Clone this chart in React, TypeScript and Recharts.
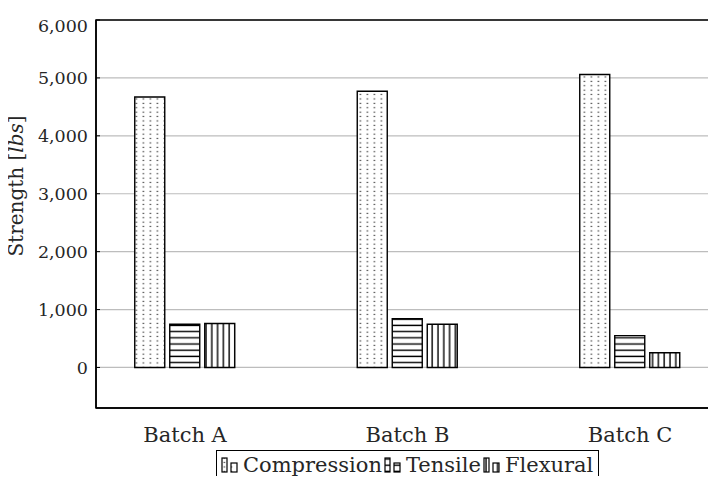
import { BarChart, Bar, XAxis, YAxis, CartesianGrid, ReferenceArea } from 'recharts'

const batches = ['Batch A', 'Batch B', 'Batch C']
const compression = [4670, 4770, 5060]
const tensile = [745, 840, 550]
const flexural = [760, 745, 255]
const yTicks = [0, 1000, 2000, 3000, 4000, 5000, 6000]

const data = batches.map((name, i) => ({
  x: i,
  name,
  compression: compression[i],
  tensile: tensile[i],
  flexural: flexural[i],
}))

const FONT = '"DejaVu Serif", serif'
const INK = '#262626'

const fmt = (v: number) => v.toLocaleString('en-US')

/** y tick: right-aligned label plus a short inward tick mark */
function YTick(props: any) {
  const { x, y, payload } = props
  const top = payload.value === 6000
  return (
    <g>
      <line x1={x + 8} x2={x + 12} y1={y} y2={y} stroke="#000" strokeWidth={1} />
      <text
        x={x}
        y={y + (top ? 6 : 0)}
        dy="0.36em"
        textAnchor="end"
        fontFamily={FONT}
        fontSize={17.5}
        fill={INK}
      >
        {fmt(payload.value)}
      </text>
    </g>
  )
}

function YLabel(props: any) {
  const { viewBox } = props
  const cx = viewBox.x + 16
  const cy = viewBox.y + viewBox.height / 2 - 28
  return (
    <text
      x={cx}
      y={cy}
      transform={`rotate(-90 ${cx} ${cy})`}
      textAnchor="middle"
      dominantBaseline="central"
      fontFamily={FONT}
      fontSize={20}
      fill={INK}
    >
      Strength [<tspan fontStyle="italic">lbs</tspan>]
    </text>
  )
}

function Patterns() {
  return (
    <svg width={0} height={0} style={{ position: 'absolute' }}>
      <defs>
        <pattern id="dots" patternUnits="userSpaceOnUse" width={7} height={4.4}>
          <rect width={7} height={4.4} fill="#fff" />
          <rect x={2.5} y={1.6} width={1.8} height={1.1} fill="#555" />
        </pattern>
        <pattern id="hlines" patternUnits="userSpaceOnUse" width={10} height={6.2}>
          <rect width={10} height={6.2} fill="#fff" />
          <line x1={0} x2={10} y1={3} y2={3} stroke="#000" strokeWidth={1.4} />
        </pattern>
        <pattern id="vlines" patternUnits="userSpaceOnUse" width={5.8} height={10}>
          <rect width={5.8} height={10} fill="#fff" />
          <line x1={3} x2={3} y1={0} y2={10} stroke="#000" strokeWidth={1.4} />
        </pattern>
      </defs>
    </svg>
  )
}

const legendItems = [
  { label: 'Compression', fill: 'url(#dots)' },
  { label: 'Tensile', fill: 'url(#hlines)' },
  { label: 'Flexural', fill: 'url(#vlines)' },
]

function LegendBox() {
  return (
    <div
      style={{
        position: 'absolute',
        left: 216,
        top: 450,
        width: 383,
        height: 60,
        border: '1px solid #000',
        boxSizing: 'border-box',
        display: 'flex',
        alignItems: 'flex-start',
        paddingLeft: 4,
        paddingTop: 2,
        fontFamily: FONT,
        fontSize: 21,
        color: INK,
        background: '#fff',
      }}
    >
      {legendItems.map((it) => (
        <span key={it.label} style={{ display: 'flex', alignItems: 'center', marginRight: 2 }}>
          <svg width={19} height={18} style={{ marginRight: 3 }}>
            <rect x={1} y={2} width={5} height={14} fill={it.fill} stroke="#000" strokeWidth={1.2} />
            <rect x={10} y={7} width={6} height={9} fill={it.fill} stroke="#000" strokeWidth={1.2} />
          </svg>
          {it.label}
        </span>
      ))}
    </div>
  )
}

export default function App() {
  return (
    <div style={{ position: 'relative', margin: -8, width: 716, height: 484, overflow: 'hidden', background: '#fff' }}>
      <Patterns />
      <BarChart
        width={730}
        height={484}
        data={data}
        margin={{ top: 20, right: 11, left: 0, bottom: 0 }}
        barSize={30}
        barGap={5}
      >
        <CartesianGrid horizontal vertical={false} stroke="#bdbdbd" strokeWidth={1.2} />
        <XAxis
          type="number"
          dataKey="x"
          domain={[-0.4, 2.4]}
          ticks={[0, 1, 2]}
          tickFormatter={(v: number) => batches[v]}
          height={76}
          tickLine={false}
          tickMargin={13}
          axisLine={{ stroke: '#000', strokeWidth: 1.5 }}
          tick={{ fontFamily: FONT, fontSize: 21, fill: INK }}
        />
        <YAxis
          type="number"
          domain={[-700, 6000]}
          ticks={yTicks}
          width={96}
          tickLine={false}
          axisLine={{ stroke: '#000', strokeWidth: 1.5 }}
          tick={<YTick />}
          label={{ content: <YLabel /> }}
        />
        <ReferenceArea
          x1={-0.4}
          x2={2.4}
          y1={-700}
          y2={6000}
          fill="none"
          fillOpacity={0}
          stroke="#000"
          strokeWidth={1.5}
          ifOverflow="visible"
        />
        <Bar dataKey="compression" fill="url(#dots)" stroke="#000" strokeWidth={1.4} isAnimationActive={false} />
        <Bar dataKey="tensile" fill="url(#hlines)" stroke="#000" strokeWidth={1.4} isAnimationActive={false} />
        <Bar dataKey="flexural" fill="url(#vlines)" stroke="#000" strokeWidth={1.4} isAnimationActive={false} />
      </BarChart>
      <LegendBox />
    </div>
  )
}
